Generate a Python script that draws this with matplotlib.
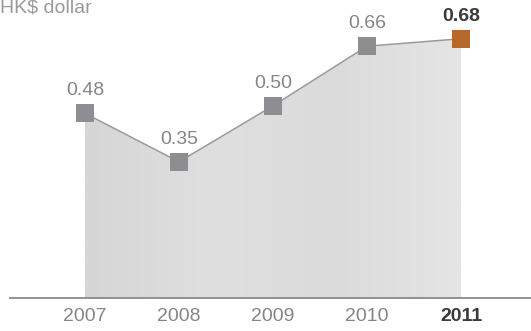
import matplotlib
matplotlib.use('Agg')
import matplotlib.pyplot as plt
import numpy as np
from matplotlib.patches import Polygon

plt.rcParams['font.family'] = ['Liberation Sans', 'DejaVu Sans']

# 每股股息 (HK$)
years = [2007, 2008, 2009, 2010, 2011]
dividends = [0.48, 0.35, 0.50, 0.66, 0.68]
value_labels = ['0.48', '0.35', '0.50', '0.66', '0.68']
unit_label = 'HK$ dollar'

grey_mark = '#8d8e92'
orange_mark = '#b8692a'

fig = plt.figure(figsize=(5.31, 3.31), dpi=100)
ax = fig.add_axes([0, 0, 1, 1])
ax.set_xlim(2006.096, 2011.745)
ax.set_ylim(-0.1038, 0.7839)
ax.axis('off')

base = -0.0153

# 灰色填充区域 (渐变, 裁剪到折线下方)
verts = [(years[0], base)] + list(zip(years, dividends)) + [(years[-1], base)]
poly = Polygon(verts, closed=True, facecolor='none', edgecolor='none')
ax.add_patch(poly)
grad = np.linspace(0, 1, 256).reshape(1, -1)
grad = np.vstack([grad] * 4)
img = ax.imshow(grad, extent=[years[0], years[-1], base, max(dividends)],
                aspect='auto', cmap=matplotlib.colors.LinearSegmentedColormap.from_list(
                    'fill', ['#d6d6d6', '#dfdfdf', '#dbdbdb', '#e5e5e5']),
                zorder=1, interpolation='bilinear')
img.set_clip_path(poly)

# 基线
ax.plot([2006.19, 2011.745], [base, base], color='#8a8a8a', lw=1.3, zorder=2,
        solid_capstyle='butt')

# 折线和方块标记
ax.plot(years, dividends, color='#9a9a9a', lw=1.1, zorder=3)
ax.scatter(years[:-1], dividends[:-1], marker='s', s=150, color=grey_mark,
           linewidths=0, zorder=4)
ax.scatter(years[-1:], dividends[-1:], marker='s', s=150, color=orange_mark,
           linewidths=0, zorder=4)

# 数值标签
for i, (x, v, t) in enumerate(zip(years, dividends, value_labels)):
    last = i == len(years) - 1
    ax.annotate(t, (x, v), xytext=(0, 10), textcoords='offset points',
                ha='center', va='bottom', fontsize=14,
                color='#3a3a3a' if last else '#858585',
                weight='bold' if last else 'normal')

# 年份标签
for i, x in enumerate(years):
    last = i == len(years) - 1
    ax.text(x, -0.066, str(x), ha='center', va='center', fontsize=14,
            color='#3a3a3a' if last else '#858585',
            weight='bold' if last else 'normal')

# 单位
ax.text(2006.096, 0.7839, unit_label, ha='left', va='top', fontsize=14,
        color='#9a9a9a')

fig.savefig('out.png', dpi=100, facecolor='white')
plt.close()
